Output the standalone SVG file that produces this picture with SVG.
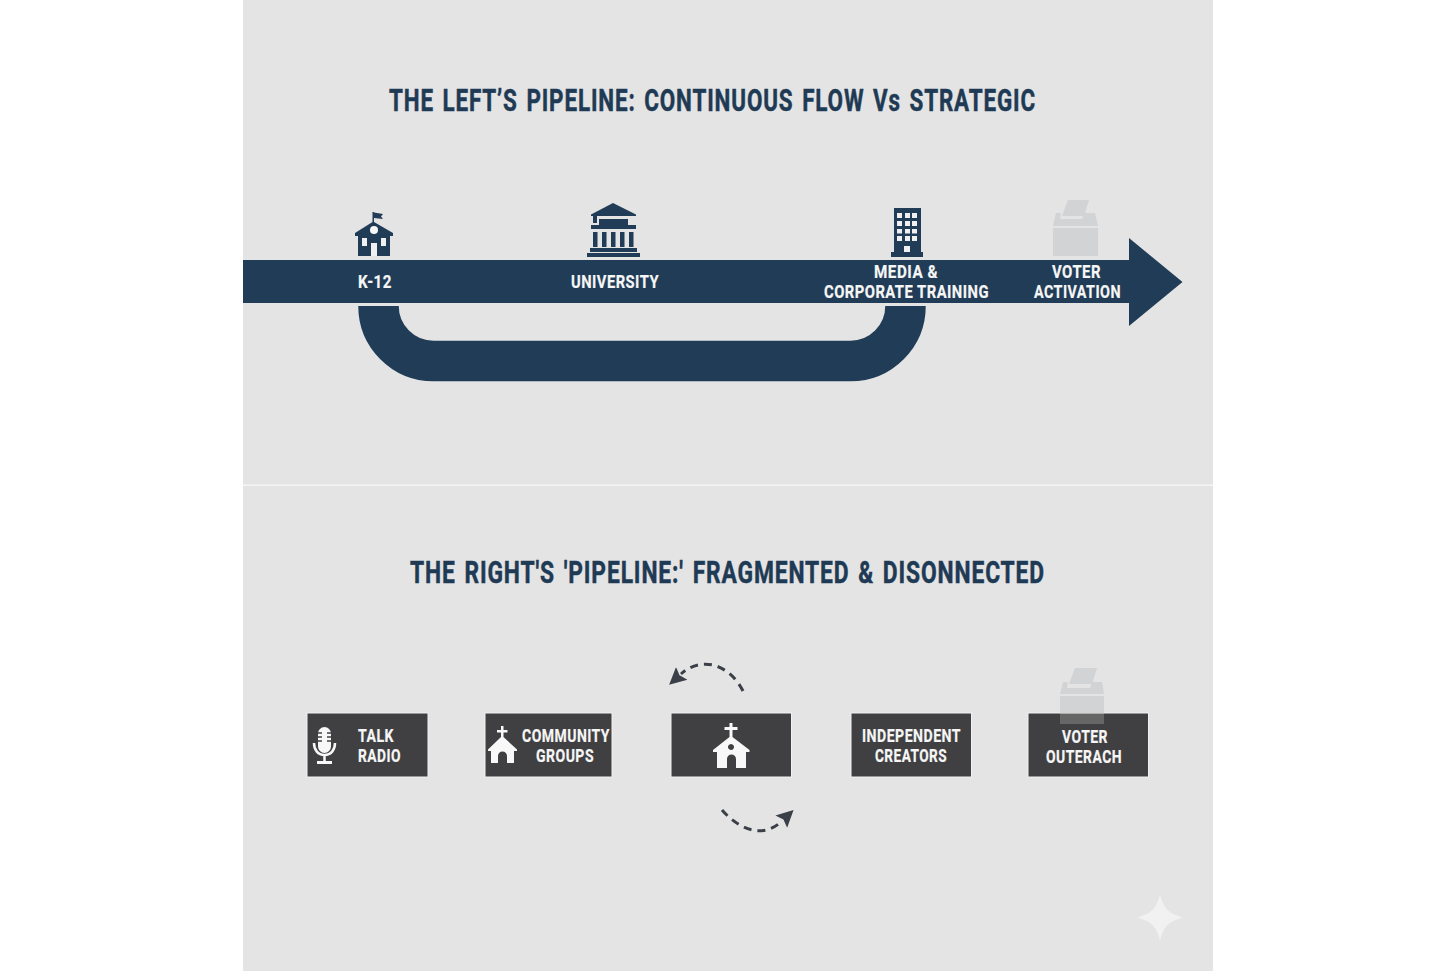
<svg xmlns="http://www.w3.org/2000/svg" width="1456" height="971" viewBox="0 0 1456 971">
<style>
text{font-family:"Roboto","Liberation Sans",sans-serif;font-weight:700}
.title{font-size:31px;fill:#1f3a54;stroke:#1f3a54;stroke-width:.5px;letter-spacing:1.200px;word-spacing:3px}
.lab{font-size:18.500px;fill:#f6f6f6;stroke:#f6f6f6;stroke-width:.2px;letter-spacing:.6px}
.sm{font-size:18px;fill:#f6f6f6;stroke:#f6f6f6;stroke-width:.2px;letter-spacing:.6px}
.navy{fill:#203c57}
.box{fill:#404042;stroke:#f1f1f1;stroke-width:1}
.wht{fill:#f8f8f8}
.ballot{fill:#d2d3d4}
.dash{fill:none;stroke:#3a3f48;stroke-width:3;stroke-dasharray:8 6}
</style>
<defs>
<marker id="head" markerUnits="userSpaceOnUse" markerWidth="20" markerHeight="20" refX="1" refY="10" orient="auto"><path d="M0 1.500L17 10L0 18.500L3 10Z" fill="#3a3f48"/></marker>
</defs>
<rect width="1456" height="971" fill="#fff"/>
<rect x="243" width="970" height="971" fill="#e4e4e4"/>
<rect x="243" y="484.500" width="970" height="1.500" fill="#f5f5f5"/>
<text id="title-left" class="title" x="389" y="111" textLength="647" lengthAdjust="spacingAndGlyphs">THE LEFT’S PIPELINE: CONTINUOUS FLOW Vs STRATEGIC</text>
<text id="title-right" class="title" x="410" y="583" textLength="635" lengthAdjust="spacingAndGlyphs">THE RIGHT'S 'PIPELINE:' FRAGMENTED &amp; DISONNECTED</text>

<g id="connectors">
<path id="loop" d="M378.500 306A55 55 0 0 0 433.500 361H850.500A55 55 0 0 0 905.500 306" fill="none" stroke="#203c57" stroke-width="40.500"/>
<path id="main-arrow" class="navy" d="M243 260H1129V238L1182.500 282L1129 326V303H243Z"/>
<path class="dash" d="M743 691C730 665 702 655 681 674" marker-end="url(#head)"/>
<path class="dash" d="M722 810C735 825 760 842 782 821" marker-end="url(#head)"/>
</g>

<g id="k12">
<path class="navy" d="M372.500 212H374V222L393 233V236H390V256H358V236H355V233L372.500 222Z"/>
<path class="navy" d="M374 212.500L383 214L381 216.500L383 219L374 218Z"/>
<circle class="wht" cx="374" cy="230" r="4"/>
<path fill="#f0f0f0" d="M362 238h5v8h-5zM381 238h5v8h-5zM371 243h6v13h-6z"/>
<text class="lab" x="358" y="288" textLength="34" lengthAdjust="spacingAndGlyphs">K-12</text>
</g>

<g id="university">
<path class="navy" d="M613 203L636 214.500V216H591V214.500Z"/>
<path class="navy" d="M593 216h4v7h-4zM599 219h29v6h-29zM591 225h45v4h-45zM593 232h4.500v15h-4.500zM602 232h4.500v15h-4.500zM611 232h4.500v15h-4.500zM620 232h4.500v15h-4.500zM629 232h4.500v15h-4.500zM590 248h47v4h-47zM587 253h53v4h-53z"/>
<text class="lab" x="571" y="288" textLength="88" lengthAdjust="spacingAndGlyphs">UNIVERSITY</text>
</g>

<g id="media">
<path class="navy" d="M894 208h27v44h2v5h-32v-5h3z"/>
<path fill="#f0f0f0" d="M897 213h5v5h-5zM905 213h5v5h-5zM912 213h5v5h-5zM897 221h5v5h-5zM905 221h5v5h-5zM912 221h5v5h-5zM897 229h5v4.500h-5zM905 229h5v4.500h-5zM912 229h5v4.500h-5zM897 236h5v5h-5zM905 236h5v5h-5zM912 236h5v5h-5zM904 246h6v6h-6z"/>
<text class="lab" x="874" y="278" textLength="64" lengthAdjust="spacingAndGlyphs">MEDIA &amp;</text>
<text class="lab" x="824" y="298" textLength="165" lengthAdjust="spacingAndGlyphs">CORPORATE TRAINING</text>
</g>

<g id="voter-activation">
<path class="ballot" d="M1068 200H1089L1084 216H1062ZM1056 213H1061L1060 219H1082L1084 213H1095L1098 226H1053ZM1053 228H1098V256H1053Z"/>
<text class="lab" x="1052" y="278" textLength="49" lengthAdjust="spacingAndGlyphs">VOTER</text>
<text class="lab" x="1034" y="298" textLength="87" lengthAdjust="spacingAndGlyphs">ACTIVATION</text>
</g>

<g id="talk-radio">
<rect class="box" x="307" y="713" width="121" height="64"/>
<rect class="wht" x="318" y="727" width="13" height="26" rx="6.500"/>
<path d="M318 733h4M327 733h4M318 737h4M327 737h4M318 741h4M327 741h4" stroke="#404042" stroke-width="1.500"/>
<path d="M314 743C314 750 318 755 324.500 755S335 750 335 743M324.500 755V762" fill="none" stroke="#f8f8f8" stroke-width="2.500"/>
<rect class="wht" x="317" y="761" width="15" height="3"/>
<text class="sm" x="358" y="742" textLength="36" lengthAdjust="spacingAndGlyphs">TALK</text>
<text class="sm" x="358" y="762" textLength="43" lengthAdjust="spacingAndGlyphs">RADIO</text>
</g>

<g id="community-groups">
<rect class="box" x="485" y="713" width="127" height="64"/>
<path class="wht" d="M501 726h2.500v4h4v2.500h-4v4.500L517 749.500V751H514V763H507V756A4.500 4.500 0 0 0 498 756V763H491V751H488V749.500L501 737V732.500h-4V730h4Z"/>
<text class="sm" x="522" y="742" textLength="88" lengthAdjust="spacingAndGlyphs">COMMUNITY</text>
<text class="sm" x="536" y="762" textLength="58" lengthAdjust="spacingAndGlyphs">GROUPS</text>
</g>

<g id="church">
<rect class="box" x="671" y="713" width="120.500" height="64"/>
<path class="wht" fill-rule="evenodd" d="M729.500 723h3v4h5v3h-5v7L749.500 750V752H746V768H736V759A4.500 4.500 0 0 0 727 759V768H717V752H713V750L729.500 737V730h-5v-3h5ZM731 744a3 3 0 1 0 .01 0Z"/>
</g>

<g id="independent-creators">
<rect class="box" x="851" y="713" width="120.500" height="64"/>
<text class="sm" x="862" y="742" textLength="99" lengthAdjust="spacingAndGlyphs">INDEPENDENT</text>
<text class="sm" x="875" y="762" textLength="72" lengthAdjust="spacingAndGlyphs">CREATORS</text>
</g>

<g id="voter-outreach">
<rect class="box" x="1028" y="713" width="120.500" height="64"/>
<path class="ballot" d="M1075 668H1097L1092 684H1069ZM1063 682H1068L1067 688H1090L1092 682H1102L1104 694H1060ZM1060 696H1104V713H1060Z"/>
<rect x="1060" y="713" width="44" height="11" fill="#fff" opacity=".2"/>
<text class="sm" x="1062" y="743" textLength="46" lengthAdjust="spacingAndGlyphs">VOTER</text>
<text class="sm" x="1046" y="763" textLength="76" lengthAdjust="spacingAndGlyphs">OUTERACH</text>
</g>

<path id="sparkle" d="M1160 894C1163 908 1169 914 1183 917.500C1169 921 1163 927 1160 941C1157 927 1151 921 1137 917.500C1151 914 1157 908 1160 894Z" fill="#f1f1f1"/>
</svg>
